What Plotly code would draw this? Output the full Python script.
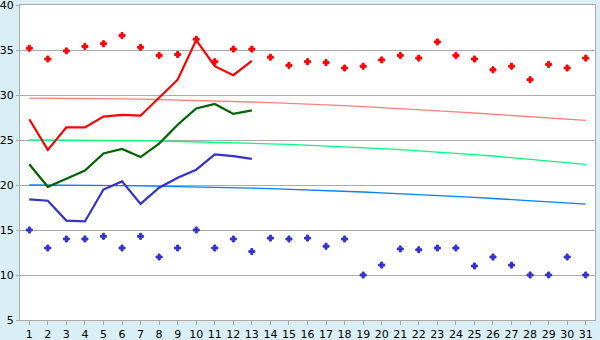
import plotly.graph_objects as go

days = list(range(1, 32))
line_days = list(range(1, 14))

max_line = [27.3, 23.9, 26.4, 26.4, 27.6, 27.8, 27.7, 29.7, 31.7, 36.1, 33.2, 32.2, 33.8]
mean_line = [22.3, 19.8, 20.7, 21.6, 23.5, 24.0, 23.1, 24.6, 26.7, 28.5, 29.0, 27.9, 28.3]
min_line = [18.4, 18.25, 16.05, 15.95, 19.5, 20.4, 17.9, 19.7, 20.8, 21.7, 23.4, 23.2, 22.9]

max_points = [35.2, 34.0, 34.9, 35.4, 35.7, 36.6, 35.3, 34.4, 34.5, 36.2, 33.7, 35.1, 35.1, 34.2, 33.3,
              33.7, 33.6, 33.0, 33.2, 33.9, 34.4, 34.1, 35.9, 34.4, 34.0, 32.8, 33.2, 31.7, 33.4, 33.0, 34.1]
min_points = [15.0, 13.0, 14.0, 14.0, 14.3, 13.0, 14.3, 12.0, 13.0, 15.0, 13.0, 14.0, 12.6, 14.1, 14.0,
              14.1, 13.2, 14.0, 10.0, 11.1, 12.9, 12.8, 13.0, 13.0, 11.0, 12.0, 11.1, 10.0, 10.0, 12.0, 10.0]

normal_max = [29.65, 29.65, 29.63, 29.62, 29.60, 29.57, 29.54, 29.50, 29.46, 29.41, 29.35, 29.29, 29.22,
              29.15, 29.08, 29.00, 28.91, 28.81, 28.71, 28.61, 28.50, 28.38, 28.26, 28.13, 28.00, 27.87,
              27.72, 27.58, 27.43, 27.30, 27.18]
normal_mean = [25.00, 25.00, 24.99, 24.98, 24.96, 24.94, 24.92, 24.89, 24.85, 24.81, 24.76, 24.71, 24.65,
               24.58, 24.51, 24.43, 24.34, 24.25, 24.14, 24.04, 23.92, 23.80, 23.66, 23.52, 23.38, 23.22,
               23.05, 22.88, 22.70, 22.50, 22.30]
normal_min = [20.00, 20.00, 19.99, 19.98, 19.96, 19.94, 19.91, 19.88, 19.85, 19.81, 19.76, 19.71, 19.65,
              19.59, 19.53, 19.46, 19.39, 19.31, 19.22, 19.13, 19.04, 18.94, 18.84, 18.73, 18.62, 18.50,
              18.38, 18.25, 18.12, 17.98, 17.88]

fig = go.Figure()

fig.add_trace(go.Scatter(x=days, y=normal_max, mode="lines", line=dict(color="#ff8080", width=1.3)))
fig.add_trace(go.Scatter(x=days, y=normal_mean, mode="lines", line=dict(color="#00ff80", width=1.3)))
fig.add_trace(go.Scatter(x=days, y=normal_min, mode="lines", line=dict(color="#0080ff", width=1.3)))

fig.add_trace(go.Scatter(x=line_days, y=max_line, mode="lines", line=dict(color="#ff0000", width=2.2)))
fig.add_trace(go.Scatter(x=line_days, y=mean_line, mode="lines", line=dict(color="#006400", width=2.2)))
fig.add_trace(go.Scatter(x=line_days, y=min_line, mode="lines", line=dict(color="#3333cc", width=2.2)))

fig.add_trace(go.Scatter(x=days, y=max_points, mode="markers",
                         marker=dict(symbol="cross", size=5, color="#ff0000",
                                     line=dict(width=1, color="#ff0000"))))
fig.add_trace(go.Scatter(x=days, y=min_points, mode="markers",
                         marker=dict(symbol="cross", size=5, color="#3333cc",
                                     line=dict(width=1, color="#3333cc"))))

fig.update_layout(
    width=600, height=340,
    margin=dict(l=20, r=5, t=5, b=20),
    paper_bgcolor="#d9eff5",
    plot_bgcolor="#ffffff",
    showlegend=False,
    font=dict(family="DejaVu Sans", size=11, color="#000000"),
)
fig.update_xaxes(
    range=[0.5, 31.5], tickvals=days, ticktext=[str(d) for d in days],
    showgrid=False, zeroline=False,
    showline=True, linecolor="#aaaaaa", linewidth=1, mirror=True,
    ticks="outside", ticklen=4, tickcolor="#aaaaaa",
    ticklabeloverflow="allow", automargin=False,
)
fig.update_yaxes(
    range=[5, 40], tickvals=[5, 10, 15, 20, 25, 30, 35, 40],
    showgrid=True, gridcolor="#aaaaaa", gridwidth=1, zeroline=False,
    showline=True, linecolor="#aaaaaa", linewidth=1, mirror=True,
    ticks="outside", ticklen=3, tickcolor="#aaaaaa",
    ticklabeloverflow="allow", automargin=False,
)

fig.write_html("out.html", config={"displayModeBar": False})
